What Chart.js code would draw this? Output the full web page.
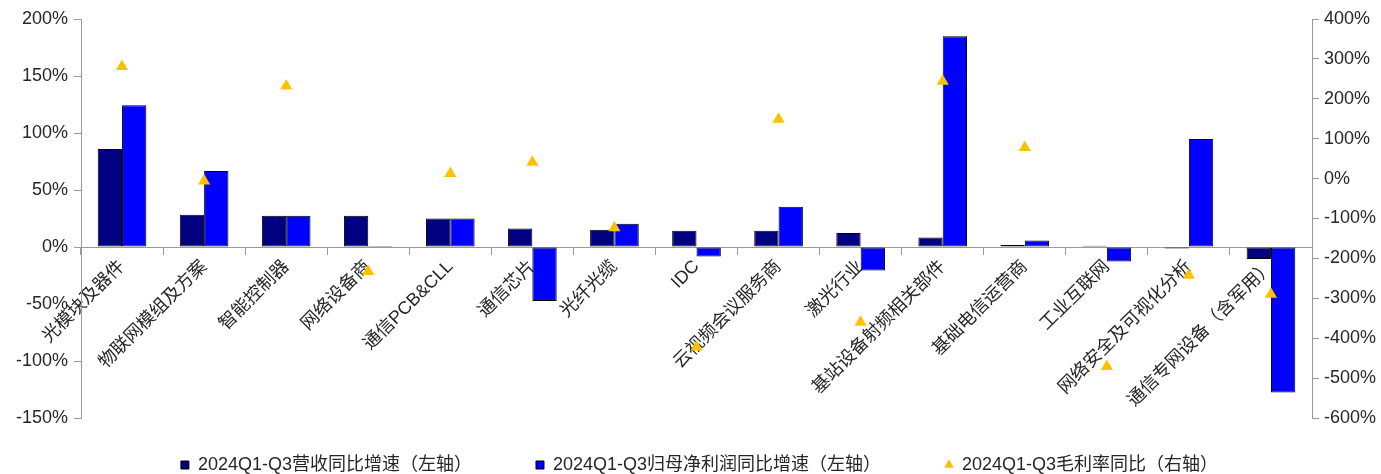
<!DOCTYPE html>
<html>
<head>
<meta charset="utf-8">
<script src="https://cdn.jsdelivr.net/npm/chart.js@4.4.1/dist/chart.umd.min.js"></script>
<style>
  html, body { margin: 0; padding: 0; background: #ffffff; }
  #wrap { width: 1381px; height: 474px; }
</style>
</head>
<body>
<div id="wrap"><canvas id="c" width="1381" height="474"></canvas></div>
<script>
// Sub-sector names (x axis)
const categories = [
  '光模块及器件', '物联网模组及方案', '智能控制器', '网络设备商', '通信PCB&CLL',
  '通信芯片', '光纤光缆', 'IDC', '云视频会议服务商', '激光行业',
  '基站设备射频相关部件', '基础电信运营商', '工业互联网', '网络安全及可视化分析', '通信专网设备（含军用）'
];
// Revenue growth YoY, % (left axis)
const revenueGrowth = [86, 28.3, 27.4, 27.4, 25, 16.3, 15.1, 14.2, 14.2, 12.2, 8.3, 1.7, 1, -1.3, -10.5];
// Net profit attributable to parent growth YoY, % (left axis)
const profitGrowth = [124.3, 66.7, 27.4, 0.8, 25, -47.3, 20.4, -8.3, 35.3, -20.6, 184.9, 5.7, -12.8, 94.8, -127.6];
// Gross margin change YoY, % (right axis)
const marginChange = [281, -6, 232, -233, 13, 41, -123, -422, 149, -360, 244, 78, -471, -242, -290];
// Series names
const seriesNames = [
  '2024Q1-Q3营收同比增速（左轴）',
  '2024Q1-Q3归母净利润同比增速（左轴）',
  '2024Q1-Q3毛利率同比（右轴）'
];
// Axis tick values
const leftTicks = [-150, -100, -50, 0, 50, 100, 150, 200];
const rightTicks = [-600, -500, -400, -300, -200, -100, 0, 100, 200, 300, 400];

const FONT = "'Liberation Sans', Arial, 'Noto Sans CJK SC', sans-serif";
const AXIS_GREY = '#9a9a9a';
const TEXT = '#262626';
const legendStyles = ['rect', 'rect', 'triangle'];

new Chart(document.getElementById('c'), {
  type: 'bar',
  data: {
    labels: categories,
    datasets: [
      {
        label: seriesNames[0], data: revenueGrowth, yAxisID: 'y', order: 1,
        backgroundColor: '#000080', borderColor: '#000000', borderWidth: 1, borderSkipped: false,
        categoryPercentage: 0.593, barPercentage: 1
      },
      {
        label: seriesNames[1], data: profitGrowth, yAxisID: 'y', order: 1,
        backgroundColor: '#0000FF', borderColor: '#000000', borderWidth: 1, borderSkipped: false,
        categoryPercentage: 0.593, barPercentage: 1
      },
      {
        type: 'line', label: seriesNames[2], data: marginChange, yAxisID: 'y1', order: 0,
        showLine: false, pointStyle: 'triangle', pointRadius: 7, pointHoverRadius: 7,
        backgroundColor: '#FFC000', borderColor: '#FFC000', borderWidth: 0,
        pointBackgroundColor: '#FFC000', pointBorderWidth: 0
      }
    ]
  },
  options: {
    responsive: false,
    animation: false,
    devicePixelRatio: 1,
    events: [],
    layout: { padding: { top: 19, right: -18, bottom: -10, left: 0 } },
    plugins: {
      tooltip: { enabled: false },
      legend: {
        position: 'bottom',
        align: 'center',
        title: { display: true, text: '', font: { size: 10, lineHeight: 1.2 }, padding: { top: -38, bottom: 0 } },
        labels: {
          usePointStyle: true,
          boxWidth: 8,
          boxHeight: 8,
          padding: 64,
          color: TEXT,
          font: { family: FONT, size: 18 },
          sort: (a, b) => a.datasetIndex - b.datasetIndex,
          generateLabels: (chart) => {
            const items = Chart.defaults.plugins.legend.labels.generateLabels(chart);
            items.forEach((it) => {
              it.pointStyle = legendStyles[it.datasetIndex];
              if (it.datasetIndex === 2) { it.lineWidth = 0; it.strokeStyle = '#FFC000'; }
              else { it.lineWidth = 1; it.strokeStyle = '#000000'; }
            });
            return items;
          }
        }
      }
    },
    scales: {
      x: {
        position: { y: 0 },
        offset: true,
        grid: { display: true, drawOnChartArea: false, drawTicks: true, tickLength: 7, color: AXIS_GREY, offset: true },
        border: { display: true, color: AXIS_GREY, width: 1 },
        ticks: {
          autoSkip: false, minRotation: 45, maxRotation: 45, padding: 2,
          color: TEXT, font: { family: FONT, size: 18 }
        }
      },
      y: {
        position: 'left',
        min: leftTicks[0], max: leftTicks[leftTicks.length - 1],
        afterBuildTicks: (s) => { s.ticks = leftTicks.map((v) => ({ value: v })); },
        afterFit: (s) => { s.width = 81; },
        grid: { display: true, drawOnChartArea: false, drawTicks: true, tickLength: 7, color: AXIS_GREY },
        border: { display: true, color: AXIS_GREY, width: 1 },
        ticks: { padding: 6, color: TEXT, font: { family: FONT, size: 18 }, callback: (v) => v + '%' }
      },
      y1: {
        position: 'right',
        min: rightTicks[0], max: rightTicks[rightTicks.length - 1],
        afterBuildTicks: (s) => { s.ticks = rightTicks.map((v) => ({ value: v })); },
        afterFit: (s) => { s.width = 87; },
        grid: { display: true, drawOnChartArea: false, drawTicks: true, tickLength: 7, color: AXIS_GREY },
        border: { display: true, color: AXIS_GREY, width: 1 },
        ticks: { padding: 5, color: TEXT, font: { family: FONT, size: 18 }, callback: (v) => v + '%' }
      }
    }
  }
});
</script>
</body>
</html>
